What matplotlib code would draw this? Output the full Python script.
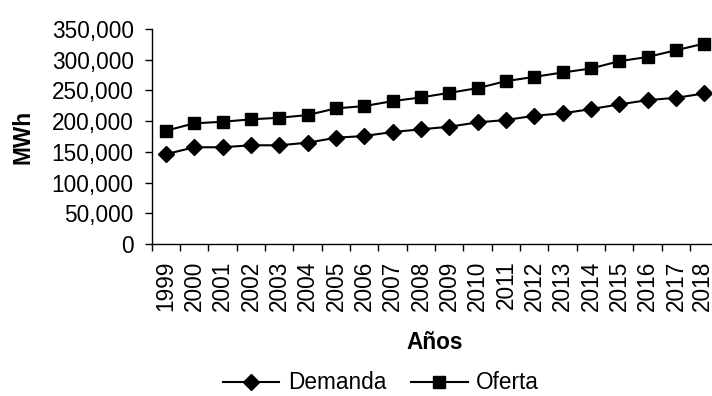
import matplotlib
matplotlib.use("Agg")
import matplotlib.pyplot as plt
import matplotlib.transforms as mtransforms
from matplotlib.ticker import FuncFormatter

plt.rcParams['font.family'] = ['Liberation Sans', 'DejaVu Sans']

years = [str(y) for y in range(1999, 2019)]
demanda = [146100, 157500, 157500, 160700, 160700, 164900, 173000, 175800, 182300, 186700,
           190900, 198000, 201800, 208800, 212700, 219600, 227300, 234200, 238000, 245100]
oferta = [184400, 196400, 199000, 202900, 205500, 209900, 220800, 224500, 232600, 238600,
          246100, 253700, 265100, 272100, 279200, 285700, 297600, 304500, 315400, 326300]
yticks = [0, 50000, 100000, 150000, 200000, 250000, 300000, 350000]

FS = 16.3
fig = plt.figure(figsize=(7.12, 3.96), dpi=100)
ax = fig.add_axes([151.7/712, 1-244/396, (718.5-151.7)/712, (244-29)/396])

x = list(range(len(years)))
ax.plot(x, demanda, color='black', lw=1.5, marker='D', markersize=8.5, label='Demanda', clip_on=False)
ax.plot(x, oferta, color='black', lw=1.5, marker='s', markersize=8.5, label='Oferta', clip_on=False)

ax.set_xlim(-0.5, len(years) - 0.5)
ax.set_ylim(0, 350000)
ax.set_yticks(yticks)
ax.yaxis.set_major_formatter(FuncFormatter(lambda v, p: f"{int(v):,}"))
ax.set_xticks(x)
ax.set_xticklabels(years, rotation=90)
ax.set_xticks([i - 0.5 for i in range(len(years) + 1)], minor=True)
ax.tick_params(axis='x', which='major', length=0, pad=12, labelsize=FS)
ax.tick_params(axis='x', which='minor', length=5, width=1, direction='out')
ax.tick_params(axis='y', length=5, width=1, labelsize=FS, pad=8)

last = ax.get_xticklabels()[-1]
last.set_transform(last.get_transform() + mtransforms.ScaledTranslation(-2/100, 0, fig.dpi_scale_trans))

for s in ['top', 'right']:
    ax.spines[s].set_visible(False)
for s in ['left', 'bottom']:
    ax.spines[s].set_linewidth(1)

ax.set_ylabel('MWh', fontsize=FS, fontweight='bold', labelpad=12)
ax.set_xlabel('Años', fontsize=FS, fontweight='bold', labelpad=14)

fig.legend(loc='center', bbox_to_anchor=(0.535, 0.033), ncol=2, frameon=False,
           fontsize=FS, handlelength=2.5, columnspacing=1.1, handletextpad=0.38,
           borderaxespad=0, borderpad=0)

fig.savefig('out.png', dpi=100)
